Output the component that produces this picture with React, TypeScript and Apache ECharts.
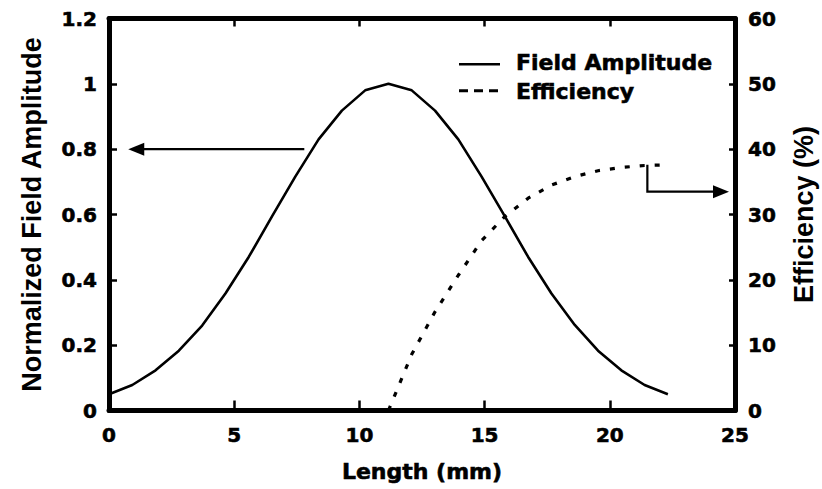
import React, { useEffect, useRef } from "react";
import * as echarts from "echarts";

// Position along the device (mm)
const fieldLength = [
  0, 0.93, 1.86, 2.79, 3.72, 4.65, 5.58, 6.51, 7.44, 8.37, 9.3, 10.23, 11.16,
  12.09, 13.02, 13.95, 14.88, 15.81, 16.74, 17.67, 18.6, 19.53, 20.46, 21.39, 22.32,
];
// Normalized field amplitude at each position
const fieldAmplitude = [
  0.05, 0.078, 0.123, 0.183, 0.26, 0.358, 0.47, 0.594, 0.716, 0.83, 0.918, 0.98, 1.0,
  0.98, 0.918, 0.83, 0.716, 0.594, 0.47, 0.358, 0.262, 0.183, 0.123, 0.078, 0.05,
];

// Efficiency build-up over the second half
const effLength = [
  11.16, 12.09, 13.02, 13.95, 14.88, 15.81, 16.74, 17.67, 18.6, 19.53, 20.46, 21.39, 22.32,
];
const efficiency = [0, 8.6, 15.1, 20.7, 26.0, 29.7, 32.5, 34.5, 35.8, 36.7, 37.2, 37.5, 37.6];

const xTicks = { min: 0, max: 25, interval: 5 };
const leftTicks = { min: 0, max: 1.2, interval: 0.2 };
const rightTicks = { min: 0, max: 60, interval: 10 };

const TICK_FONT = "DejaVu Sans";
const TITLE_FONT = "Liberation Sans";

function frameLine() {
  return { show: true, onZero: false, lineStyle: { color: "#000", width: 5 } };
}
function innerTick(length: number) {
  return { show: true, inside: true, length, lineStyle: { color: "#000", width: 2.5 } };
}
function tickLabel(margin: number) {
  return {
    color: "#000",
    fontFamily: TICK_FONT,
    fontWeight: "bold" as const,
    fontSize: 20,
    textBorderColor: "#000",
    textBorderWidth: 0.6,
    margin,
  };
}

export default function App() {
  const ref = useRef<HTMLDivElement>(null);

  useEffect(() => {
    if (!ref.current) return;
    const chart = echarts.init(ref.current, undefined, { renderer: "svg" });

    chart.setOption({
      animation: false,
      backgroundColor: "#fff",
      grid: {
        left: 109,
        right: 87,
        top: 18.5,
        bottom: 78.5,
        outerBoundsMode: "none",
      },
      xAxis: [
        {
          type: "value",
          position: "bottom",
          ...xTicks,
          axisLine: frameLine(),
          axisTick: innerTick(10),
          axisLabel: tickLabel(14),
          splitLine: { show: false },
          name: "Length (mm)",
          nameLocation: "middle",
          nameGap: 50,
          nameTextStyle: {
            color: "#000",
            fontFamily: TICK_FONT,
            fontWeight: "bold",
            fontSize: 22,
            textBorderColor: "#000",
            textBorderWidth: 0.6,
          },
        },
        {
          type: "value",
          position: "top",
          ...xTicks,
          axisLine: frameLine(),
          axisTick: innerTick(8),
          axisLabel: { show: false },
          splitLine: { show: false },
        },
      ],
      yAxis: [
        {
          type: "value",
          position: "left",
          ...leftTicks,
          axisLine: frameLine(),
          axisTick: innerTick(8),
          axisLabel: tickLabel(12),
          splitLine: { show: false },
          name: "Normalized Field Amplitude",
          nameLocation: "middle",
          nameRotate: 90,
          nameGap: 64,
          nameTextStyle: { color: "#000", fontFamily: TITLE_FONT, fontWeight: "bold", fontSize: 27 },
        },
        {
          type: "value",
          position: "right",
          ...rightTicks,
          axisLine: frameLine(),
          axisTick: innerTick(6),
          axisLabel: tickLabel(13),
          splitLine: { show: false },
          name: "Efficiency (%)",
          nameLocation: "middle",
          nameRotate: 90,
          nameGap: 55,
          nameTextStyle: { color: "#000", fontFamily: TITLE_FONT, fontWeight: "bold", fontSize: 27 },
        },
      ],
      series: [
        {
          name: "Field Amplitude",
          type: "line",
          xAxisIndex: 0,
          yAxisIndex: 0,
          data: fieldLength.map((x, i) => [x, fieldAmplitude[i]]),
          symbol: "none",
          lineStyle: { color: "#000", width: 2.6 },
          z: 3,
        },
        {
          name: "Efficiency",
          type: "line",
          xAxisIndex: 0,
          yAxisIndex: 1,
          data: effLength.map((x, i) => [x, efficiency[i]]),
          symbol: "none",
          lineStyle: { color: "#000", width: 3.2, type: [5, 10] },
          z: 3,
        },
      ],
    });

    // Annotation arrows pointing each curve to its axis
    const toLeft = (p: number[]) => chart.convertToPixel({ xAxisIndex: 0, yAxisIndex: 0 }, p) as number[];
    const toRight = (p: number[]) => chart.convertToPixel({ xAxisIndex: 0, yAxisIndex: 1 }, p) as number[];

    const la0 = toLeft([7.8, 0.8]);
    const laTip = toLeft([0.77, 0.8]);
    const ra0 = toRight([21.5, 37.6]);
    const ra1 = toRight([21.5, 33.5]);
    const raTip = toRight([24.76, 33.5]);
    const headLen = 16;
    const headHalf = 6.5;

    const stroke = { stroke: "#000", lineWidth: 2.2, fill: "none" };
    const legendFont = `bold 22px "${TICK_FONT}"`;

    chart.setOption({
      graphic: [
        {
          type: "line",
          shape: { x1: la0[0], y1: la0[1], x2: laTip[0] + headLen - 2, y2: laTip[1] },
          style: stroke,
          z: 10,
        },
        {
          type: "polygon",
          shape: {
            points: [
              [laTip[0], laTip[1]],
              [laTip[0] + headLen, laTip[1] - headHalf],
              [laTip[0] + headLen, laTip[1] + headHalf],
            ],
          },
          style: { fill: "#000" },
          z: 10,
        },
        {
          type: "polyline",
          shape: { points: [ra0, ra1, [raTip[0] - headLen + 2, ra1[1]]] },
          style: stroke,
          z: 10,
        },
        {
          type: "polygon",
          shape: {
            points: [
              [raTip[0], raTip[1]],
              [raTip[0] - headLen, raTip[1] - headHalf],
              [raTip[0] - headLen, raTip[1] + headHalf],
            ],
          },
          style: { fill: "#000" },
          z: 10,
        },
        // Legend
        {
          type: "line",
          shape: { x1: 459, y1: 64.3, x2: 500, y2: 64.3 },
          style: { stroke: "#000", lineWidth: 2.6 },
          z: 10,
        },
        {
          type: "line",
          shape: { x1: 459, y1: 90.7, x2: 498, y2: 90.7 },
          style: { stroke: "#000", lineWidth: 3, lineDash: [9, 6] },
          z: 10,
        },
        {
          type: "text",
          x: 516,
          y: 62,
          style: {
            text: "Field Amplitude",
            fill: "#000",
            font: legendFont,
            stroke: "#000",
            lineWidth: 0.6,
            verticalAlign: "middle",
            align: "left",
          },
          z: 10,
        },
        {
          type: "text",
          x: 516,
          y: 91.5,
          style: {
            text: "Efficiency",
            fill: "#000",
            font: legendFont,
            stroke: "#000",
            lineWidth: 0.6,
            verticalAlign: "middle",
            align: "left",
          },
          z: 10,
        },
      ],
    });

    return () => chart.dispose();
  }, []);

  return (
    <div
      ref={ref}
      style={{ position: "absolute", left: 0, top: 0, width: 822, height: 489 }}
    />
  );
}
